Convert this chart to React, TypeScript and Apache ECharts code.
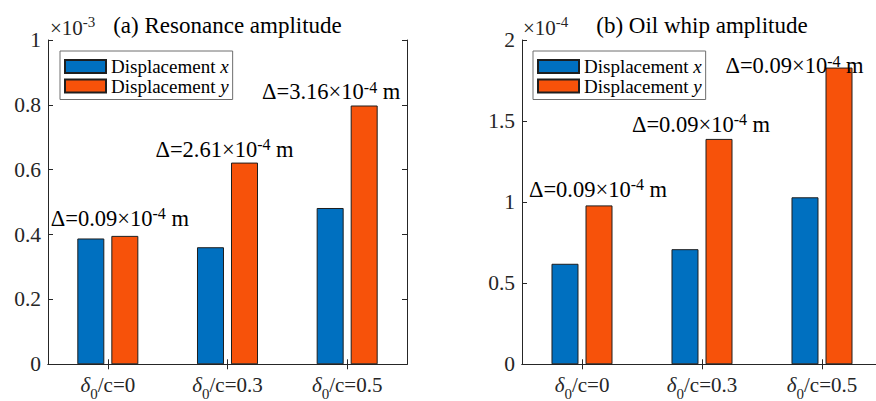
import React, { useEffect, useRef } from 'react';
import * as echarts from 'echarts';

// ---- data ----
const ratios = ['0', '0.3', '0.5'];
const seriesNames = ['Displacement x', 'Displacement y'];
// (a) resonance amplitude, unit 1e-3 m
const resonanceX = [0.388, 0.361, 0.482];
const resonanceY = [0.396, 0.622, 0.798];
const resonanceDelta = ['0.09', '2.61', '3.16'];
// (b) oil whip amplitude, unit 1e-4 m
const oilWhipX = [0.62, 0.71, 1.03];
const oilWhipY = [0.98, 1.39, 1.83];
const oilWhipDelta = ['0.09', '0.09', '0.09'];
const leftTicks = { min: 0, max: 1, interval: 0.2 };
const rightTicks = { min: 0, max: 2, interval: 0.5 };

// ---- layout / style ----
const FONT = "'Liberation Serif', 'Times New Roman', serif";
const BLUE = '#0070C0';
const ORANGE = '#F7520A';
const AXIS = '#262626';
const resonanceLabelOffsets = [[-5, -6], [-20, -2], [-33, -2.2]];
const oilWhipLabelOffsets = [[-1, -4.5], [-18, -3], [-44.5, 9.5]];

const supRich = {
  n: { fontSize: 22.5, fontFamily: FONT, lineHeight: 24, verticalAlign: 'bottom', color: '#000' },
  sup: { fontSize: 16, fontFamily: FONT, lineHeight: 9, verticalAlign: 'top', color: '#000' },
};

function deltaLabel(d: string, offset: number[]) {
  return {
    show: true,
    position: 'top',
    distance: 0,
    offset,
    formatter: `{n|\u0394=${d}\u00d710}{sup|-4}{n| m}`,
    rich: supRich,
  };
}

function xAxes(gridIndex: number) {
  const catLabel = {
    show: true,
    interval: 0,
    margin: 10,
    formatter: (v: string) => `{d|\u03b4}{s|0}{n|/c=${v}}`,
    rich: {
      d: { fontSize: 21, fontFamily: FONT, fontStyle: 'italic', lineHeight: 22, verticalAlign: 'top', color: AXIS },
      n: { fontSize: 21, fontFamily: FONT, lineHeight: 22, verticalAlign: 'top', color: AXIS },
      s: { fontSize: 15, fontFamily: FONT, lineHeight: 27, verticalAlign: 'bottom', color: AXIS },
    },
  };
  const base = {
    type: 'category',
    gridIndex,
    data: ratios,
    boundaryGap: true,
    axisLine: { show: true, lineStyle: { color: AXIS, width: 1 } },
    axisTick: { show: true, inside: true, alignWithLabel: true, length: 5, lineStyle: { color: AXIS } },
    splitLine: { show: false },
  };
  return [
    { ...base, position: 'bottom', axisLabel: catLabel },
    { ...base, position: 'top', axisLabel: { show: false } },
  ];
}

function yAxes(gridIndex: number, t: { min: number; max: number; interval: number }) {
  const base = {
    type: 'value',
    gridIndex,
    min: t.min,
    max: t.max,
    interval: t.interval,
    axisLine: { show: true, lineStyle: { color: AXIS, width: 1 } },
    axisTick: { show: true, inside: true, length: 5, lineStyle: { color: AXIS } },
    splitLine: { show: false },
  };
  return [
    {
      ...base,
      position: 'left',
      axisLabel: {
        show: true,
        margin: 7,
        fontSize: 21.5,
        fontFamily: FONT,
        color: AXIS,
        formatter: (v: number) => String(parseFloat(v.toFixed(2))),
      },
    },
    { ...base, position: 'right', axisLabel: { show: false } },
  ];
}

function legend(left: number) {
  return {
    orient: 'vertical',
    left,
    top: 51,
    icon: 'rect',
    itemWidth: 41,
    itemHeight: 13,
    itemGap: 0.5,
    padding: [6, 4, 4, 4],
    borderColor: '#6e6e6e',
    borderWidth: 1,
    backgroundColor: '#fff',
    selectedMode: false,
    data: seriesNames,
    formatter: (name: string) => {
      const parts = name.split(' ');
      return `${parts[0]} {i|${parts[1]}}`;
    },
    textStyle: {
      fontSize: 19,
      fontFamily: FONT,
      color: '#000',
      lineHeight: 19,
      rich: { i: { fontSize: 19, fontFamily: FONT, fontStyle: 'italic', color: '#000', lineHeight: 19 } },
    },
  };
}

function barSeries(name: string, color: string, data: any[], axisIndex: number) {
  return {
    type: 'bar',
    name,
    xAxisIndex: axisIndex,
    yAxisIndex: axisIndex,
    data,
    barWidth: 27,
    barGap: '26%',
    itemStyle: { color, borderColor: '#1e1e1e', borderWidth: 1 },
  };
}

function expTitle(left: number, exp: string) {
  return {
    left,
    top: 14.5,
    padding: 0,
    text: `{n|\u00d710}{sup|${exp}}`,
    textStyle: {
      fontSize: 21,
      fontFamily: FONT,
      fontWeight: 'normal',
      color: AXIS,
      rich: {
        n: { fontSize: 21, fontFamily: FONT, lineHeight: 24, verticalAlign: 'bottom', color: AXIS },
        sup: { fontSize: 15, fontFamily: FONT, lineHeight: 9, verticalAlign: 'top', color: AXIS },
      },
    },
  };
}

function mainTitle(left: number, text: string) {
  return {
    left,
    top: 13.5,
    padding: 0,
    textAlign: 'center',
    text,
    textStyle: { fontSize: 23, fontFamily: FONT, fontWeight: 'normal', color: '#000', lineHeight: 23 },
  };
}

export default function App() {
  const ref = useRef<HTMLDivElement>(null);
  useEffect(() => {
    if (!ref.current) return;
    const chart = echarts.init(ref.current, null, { renderer: 'svg' });
    const option: any = {
      animation: false,
      backgroundColor: '#fff',
      textStyle: { fontFamily: FONT },
      title: [
        mainTitle(227.5, '(a) Resonance amplitude'),
        mainTitle(702, '(b) Oil whip amplitude'),
        expTitle(50, '-3'),
        expTitle(523, '-4'),
      ],
      grid: [
        { left: 48, top: 40, width: 359, height: 324.3, containLabel: false, outerBoundsMode: 'none' },
        { left: 522, top: 40, width: 360, height: 324.3, containLabel: false, outerBoundsMode: 'none' },
      ],
      xAxis: [...xAxes(0), ...xAxes(1)],
      yAxis: [...yAxes(0, leftTicks), ...yAxes(1, rightTicks)],
      legend: [legend(60), legend(533)],
      series: [
        barSeries(seriesNames[0], BLUE, resonanceX, 0),
        barSeries(
          seriesNames[1],
          ORANGE,
          resonanceY.map((v, i) => ({ value: v, label: deltaLabel(resonanceDelta[i], resonanceLabelOffsets[i]) })),
          0
        ),
        barSeries(seriesNames[0], BLUE, oilWhipX, 2),
        barSeries(
          seriesNames[1],
          ORANGE,
          oilWhipY.map((v, i) => ({ value: v, label: deltaLabel(oilWhipDelta[i], oilWhipLabelOffsets[i]) })),
          2
        ),
      ],
    };
    chart.setOption(option);
    return () => chart.dispose();
  }, []);
  return (
    <div
      ref={ref}
      style={{ position: 'fixed', left: 0, top: 0, width: 876, height: 401, background: '#fff' }}
    />
  );
}
